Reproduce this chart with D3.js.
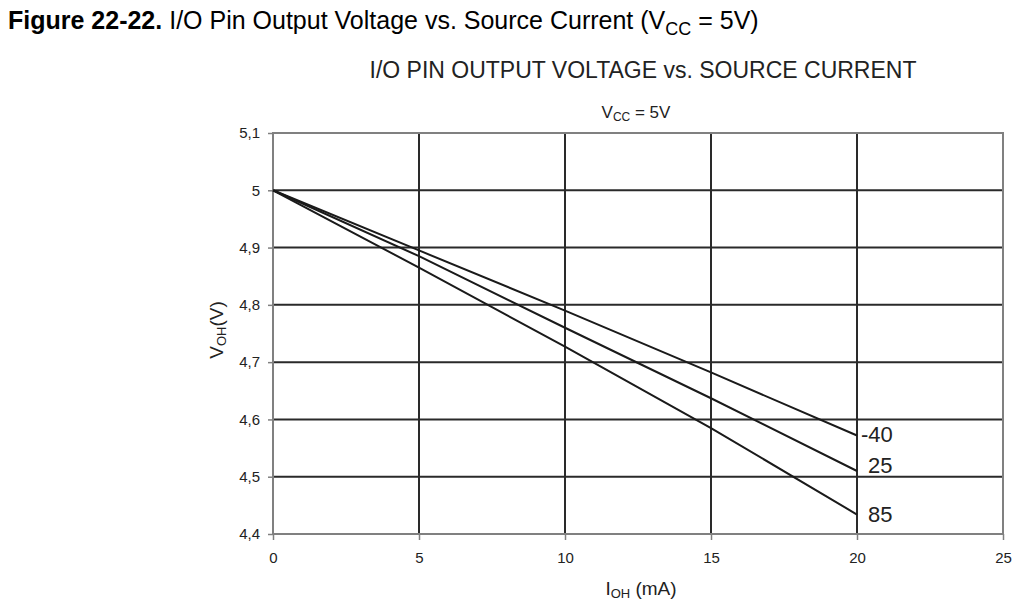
<!DOCTYPE html>
<html>
<head>
<meta charset="utf-8">
<script src="https://cdn.jsdelivr.net/npm/d3@7"></script>
<style>
  body { margin: 0; background: #fff; }
  svg { font-family: "Liberation Sans", Arial, sans-serif; }
</style>
</head>
<body>
<div id="chart"></div>
<script>
const currents = [0, 5, 10, 15, 20];
const temps = ["-40", "25", "85"];
const vohM40 = [5, 4.895, 4.79, 4.682, 4.572];
const voh25 = [5, 4.885, 4.76, 4.637, 4.51];
const voh85 = [5, 4.865, 4.727, 4.585, 4.434];
const xTicks = [0, 5, 10, 15, 20, 25];
const yTicks = [4.4, 4.5, 4.6, 4.7, 4.8, 4.9, 5, 5.1];

const series = [
  { name: temps[0], values: vohM40, dx: 4, dy: 0 },
  { name: temps[1], values: voh25, dx: 11, dy: -5 },
  { name: temps[2], values: voh85, dx: 11, dy: 0 },
];

const width = 1024, height = 611;
const margin = { top: 133, right: 21, bottom: 77, left: 273 };
const w = width - margin.left - margin.right;
const h = height - margin.top - margin.bottom;

const svg = d3.select("#chart").append("svg")
  .attr("width", width).attr("height", height);

// figure caption
const cap = svg.append("text").attr("x", 8).attr("y", 29)
  .style("font-size", "25px").attr("fill", "#000");
cap.append("tspan").attr("font-weight", "bold").text("Figure 22-22.");
cap.append("tspan").text(" I/O Pin Output Voltage vs. Source Current (V");
cap.append("tspan").style("font-size", "18px").attr("dy", 6).text("CC");
cap.append("tspan").attr("dy", -6).text(" = 5V)");

svg.append("text").attr("x", 643).attr("y", 78)
  .attr("text-anchor", "middle").style("font-size", "23px").attr("fill", "#222")
  .text("I/O PIN OUTPUT VOLTAGE vs. SOURCE CURRENT");

const vcc = svg.append("text").attr("x", 636).attr("y", 118)
  .attr("text-anchor", "middle").style("font-size", "17px").attr("fill", "#222");
vcc.append("tspan").text("V");
vcc.append("tspan").style("font-size", "12px").attr("dy", 3).text("CC");
vcc.append("tspan").attr("dy", -3).text(" = 5V");

const g = svg.append("g")
  .attr("transform", `translate(${margin.left},${margin.top})`);

const x = d3.scaleLinear().domain([0, 25]).range([0, w]);
const y = d3.scaleLinear().domain([4.4, 5.1]).range([h, 0]);

// grid
g.append("g").selectAll("line").data(yTicks.slice(1, -1)).join("line")
  .attr("x1", 0).attr("x2", w)
  .attr("y1", d => y(d)).attr("y2", d => y(d))
  .attr("stroke", "#2a2a2a").attr("stroke-width", 2);
g.append("g").selectAll("line").data(xTicks.slice(1, -1)).join("line")
  .attr("y1", 0).attr("y2", h)
  .attr("x1", d => x(d)).attr("x2", d => x(d))
  .attr("stroke", "#2a2a2a").attr("stroke-width", 2);

// frame
g.append("rect").attr("width", w).attr("height", h)
  .attr("fill", "none").attr("stroke", "#808080").attr("stroke-width", 2);

const fmt = d => d3.format(".1~f")(d).replace(".", ",");
const yAxis = g.append("g")
  .call(d3.axisLeft(y).tickValues(yTicks).tickSize(5).tickPadding(8).tickFormat(fmt));
const xAxis = g.append("g").attr("transform", `translate(0,${h})`)
  .call(d3.axisBottom(x).tickValues(xTicks).tickSize(6).tickPadding(12));
[yAxis, xAxis].forEach(a => {
  a.attr("font-size", null).attr("font-family", null);
  a.select(".domain").remove();
  a.selectAll(".tick line").attr("stroke", "#808080").attr("stroke-width", 1.5);
  a.selectAll(".tick text").style("font-size", "15px").attr("fill", "#222");
});

// curves
const line = d3.line().x((d, i) => x(currents[i])).y(d => y(d));
g.append("g").selectAll("path").data(series).join("path")
  .attr("d", s => line(s.values))
  .attr("fill", "none").attr("stroke", "#1a1a1a").attr("stroke-width", 2);

g.append("g").selectAll("text").data(series).join("text")
  .attr("x", s => x(20) + s.dx)
  .attr("y", s => y(s.values[s.values.length - 1]) + 7 + s.dy)
  .style("font-size", "22px").attr("fill", "#222")
  .text(s => s.name);

// axis labels
const yl = svg.append("text")
  .attr("transform", `translate(223,330) rotate(-90)`)
  .attr("text-anchor", "middle").style("font-size", "19px").attr("fill", "#222");
yl.append("tspan").text("V");
yl.append("tspan").style("font-size", "13px").attr("dy", 3).text("OH");
yl.append("tspan").attr("dy", -3).text("(V)");

const xl = svg.append("text").attr("x", 641).attr("y", 595)
  .attr("text-anchor", "middle").style("font-size", "19px").attr("fill", "#222");
xl.append("tspan").text("I");
xl.append("tspan").style("font-size", "13px").attr("dy", 3).text("OH");
xl.append("tspan").attr("dy", -3).text(" (mA)");
</script>
</body>
</html>
